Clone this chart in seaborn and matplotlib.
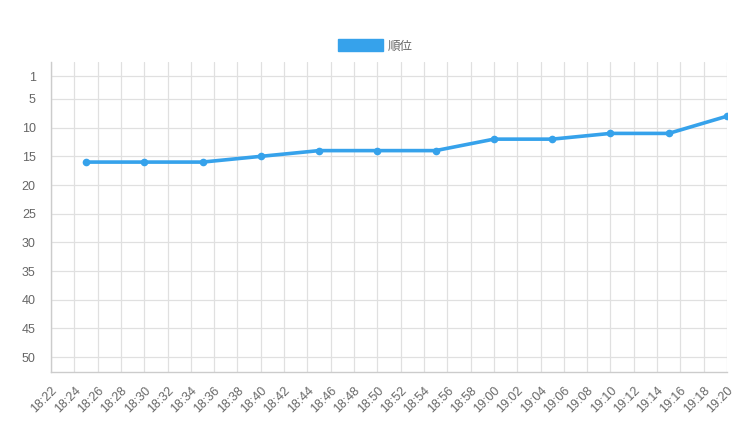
import pandas as pd
import numpy as np
import matplotlib
matplotlib.use("Agg")
import matplotlib.pyplot as plt
import matplotlib.dates as mdates
from matplotlib.patches import Patch
import seaborn as sns

times = ["18:25", "18:30", "18:35", "18:40", "18:45", "18:50", "18:55",
         "19:00", "19:05", "19:10", "19:15", "19:20"]
ranks = [16, 16, 16, 15, 14, 14, 14, 12, 12, 11, 11, 8]
y_ticks = [1, 5, 10, 15, 20, 25, 30, 35, 40, 45, 50]
series_name = "順位"

df = pd.DataFrame({
    "time": pd.to_datetime(["2020-01-01 " + t for t in times]),
    "rank": ranks,
})

sns.set_style("white")
plt.rcParams["font.family"] = ["Liberation Sans", "Noto Sans CJK JP", "DejaVu Sans"]

blue = "#36A2EB"
grid_c = "#e0e0e0"
text_c = "#666666"

fig = plt.figure(figsize=(7.52, 4.48), dpi=100)
ax = fig.add_axes([51 / 752, 1 - 372 / 448, (727 - 51) / 752, (372 - 62) / 448])

sns.lineplot(data=df, x="time", y="rank", ax=ax, color=blue, linewidth=2.6,
             marker="o", markersize=5.5, markeredgewidth=0, label=series_name,
             legend=False)

x0 = pd.Timestamp("2020-01-01 18:22")
x1 = pd.Timestamp("2020-01-01 19:20")
ax.set_xlim(x0, x1)
ax.set_ylim(52.6, -1.45)
ax.set_yticks(y_ticks)
ax.xaxis.set_major_locator(mdates.MinuteLocator(byminute=range(0, 60, 2)))
ax.xaxis.set_major_formatter(mdates.DateFormatter("%H:%M"))
ax.grid(True, color=grid_c, linewidth=0.9)
ax.set_axisbelow(True)
for s in ["top", "right"]:
    ax.spines[s].set_visible(False)
for s in ["left", "bottom"]:
    ax.spines[s].set_color("#cccccc")
    ax.spines[s].set_linewidth(1)
ax.tick_params(axis="both", length=8, color=grid_c, width=0.9,
               labelcolor=text_c, labelsize=9)
ax.tick_params(axis="y", pad=3)
ax.tick_params(axis="x", pad=1)
for lbl in ax.get_xticklabels():
    lbl.set_rotation(45)
    lbl.set_ha("right")
    lbl.set_rotation_mode("anchor")
ax.set_xlabel("")
ax.set_ylabel("")

handle = Patch(facecolor=blue, edgecolor=blue)
fig.legend([handle], [series_name], loc="center", bbox_to_anchor=(375 / 752, 1 - 46 / 448),
           frameon=False, handlelength=3.6, handleheight=1.1, handletextpad=0.4,
           fontsize=9, labelcolor=text_c,
           prop={"family": ["Noto Sans CJK JP", "DejaVu Sans"], "size": 9})

fig.savefig("out.png", dpi=100)
